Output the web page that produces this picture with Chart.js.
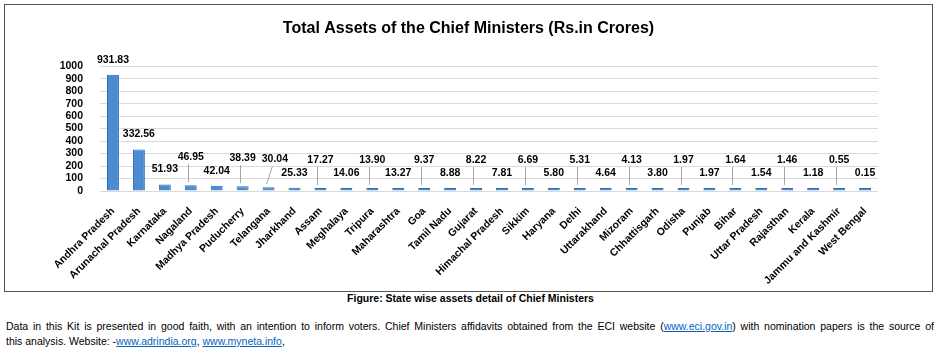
<!DOCTYPE html>
<html>
<head>
<meta charset="utf-8">
<script src="https://cdn.jsdelivr.net/npm/chart.js@4/dist/chart.umd.min.js"></script>
<style>
	body { margin: 0; background: #fff; font-family: 'Liberation Sans', Arial, sans-serif; color: #000; }
	#box { position: absolute; left: 4px; top: 4px; width: 927px; height: 286px; border: 1px solid #555; }
	#caption { position: absolute; left: 0; top: 292px; width: 941px; text-align: center; font-weight: bold; font-size: 10.5px; }
	#footer { position: absolute; left: 6px; top: 319px; width: 928px; font-size: 10.5px; line-height: 15px; }
	.just { text-align: justify; text-align-last: justify; white-space: nowrap; }
	a { color: #0563C1; }
</style>
</head>
<body>
<div id="box"><canvas id="assets-viz"></canvas></div>
<div id="caption">Figure: State wise assets detail of Chief Ministers</div>
<div id="footer">
	<div class="just">Data in this Kit is presented in good faith, with an intention to inform voters. Chief Ministers affidavits obtained from the ECI website (<a href="#">www.eci.gov.in</a>) with nomination papers is the source of</div>
	<div>this analysis. Website: -<a href="#">www.adrindia.org</a>, <a href="#">www.myneta.info</a>,</div>
</div>
<script>
// State names, in the order of the bars
var states = [ 'Andhra Pradesh', 'Arunachal Pradesh', 'Karnataka', 'Nagaland', 'Madhya Pradesh',
               'Puducherry', 'Telangana', 'Jharkhand', 'Assam', 'Meghalaya',
               'Tripura', 'Maharashtra', 'Goa', 'Tamil Nadu', 'Gujarat',
               'Himachal Pradesh', 'Sikkim', 'Haryana', 'Delhi', 'Uttarakhand',
               'Mizoram', 'Chhattisgarh', 'Odisha', 'Punjab', 'Bihar',
               'Uttar Pradesh', 'Rajasthan', 'Kerala', 'Jammu and Kashmir', 'West Bengal' ];

// Total assets, Rs. in crores
var assets = [ 931.83, 332.56, 51.93, 46.95, 42.04,
               38.39, 30.04, 25.33, 17.27, 14.06,
               13.90, 13.27, 9.37, 8.88, 8.22,
               7.81, 6.69, 5.80, 5.31, 4.64,
               4.13, 3.80, 1.97, 1.97, 1.64,
               1.54, 1.46, 1.18, 0.55, 0.15 ];

var y_min = 0;
var y_max = 1000;
var y_step = 100;

var chart_title = 'Total Assets of the Chief Ministers (Rs.in Crores)';
var font_family = "'Liberation Sans', Arial, sans-serif";


// labels of the small bars alternate up / down so they don't collide
function is_raised(i) {
	return i === 3 || i === 5 || (i >= 6 && i % 2 === 0);
}

var value_label_plugin = {
	id: 'value_labels',
	afterDatasetsDraw: function(chart) {
		var ctx = chart.ctx;
		var meta = chart.getDatasetMeta(0);
		var last_raised_right = -Infinity;
		ctx.save();
		ctx.font = 'bold 10.5px ' + font_family;
		ctx.textAlign = 'center';
		ctx.textBaseline = 'middle';
		meta.data.forEach(function(bar, i) {
			var txt = assets[i].toFixed(2);
			var w = ctx.measureText(txt).width;
			var raised = is_raised(i);
			var ly = bar.y - (raised ? 28 : 15);
			var lx = bar.x;
			if (raised) {
				// push right if it would run into the previous raised label
				if (lx - w / 2 < last_raised_right + 6) lx = last_raised_right + 6 + w / 2;
				last_raised_right = lx + w / 2;
				// leader line down to the bar
				ctx.strokeStyle = '#A6A6A6';
				ctx.lineWidth = 1;
				ctx.beginPath();
				ctx.moveTo(Math.round(lx - 3) + 0.5, ly + 7);
				ctx.lineTo(Math.round(bar.x - 3) + 0.5, bar.y - 3);
				ctx.stroke();
			}
			ctx.fillStyle = '#000';
			ctx.fillText(txt, lx, ly);
		});
		ctx.restore();
	}
};


var ctx = document.getElementById('assets-viz');
var cfg = {
	type: 'bar',
	data: {
		labels: states,
		datasets: [ {
			label: 'Total Assets',
			data: assets,
			backgroundColor: '#4A8BD2',
			borderColor: '#2F6CB0',
			borderWidth: 1,
			barPercentage: 0.46,
			categoryPercentage: 1.0,
			minBarLength: 3
		} ]
	},
	options: {
		responsive: true,
		maintainAspectRatio: false,
		animation: false,
		layout: { padding: { top: 8, right: 0, bottom: 0, left: 0 } },
		plugins: {
			legend: { display: false },
			tooltip: { enabled: false },
			title: {
				display: true,
				text: chart_title,
				color: '#000',
				font: { family: font_family, size: 16, weight: 'bold' },
				padding: { top: 6, bottom: 28 }
			}
		},
		scales: {
			x: {
				grid: { display: false },
				border: { display: false },
				ticks: {
					autoSkip: false,
					maxRotation: 45,
					minRotation: 45,
					padding: 6,
					color: '#000',
					font: { family: font_family, size: 10.5, weight: 'bold' }
				},
				afterFit: function(scale) { scale.height = 100; }
			},
			y: {
				min: y_min,
				max: y_max,
				ticks: {
					stepSize: y_step,
					autoSkip: false,
					padding: 17,
					color: '#000',
					font: { family: font_family, size: 10.5, weight: 'bold' },
					callback: function(value) { return String(value); }
				},
				grid: { color: '#D9D9D9', drawTicks: false },
				border: { display: false },
				afterFit: function(scale) { scale.width = 95; }
			},
			// empty right-hand strip so the title stays centred on the whole box
			y_right: {
				position: 'right',
				min: y_min,
				max: y_max,
				ticks: { display: false },
				grid: { display: false },
				border: { display: false },
				afterFit: function(scale) { scale.width = 54; }
			}
		}
	},
	plugins: [ value_label_plugin ]
};
new Chart(ctx, cfg);
</script>
</body>
</html>
